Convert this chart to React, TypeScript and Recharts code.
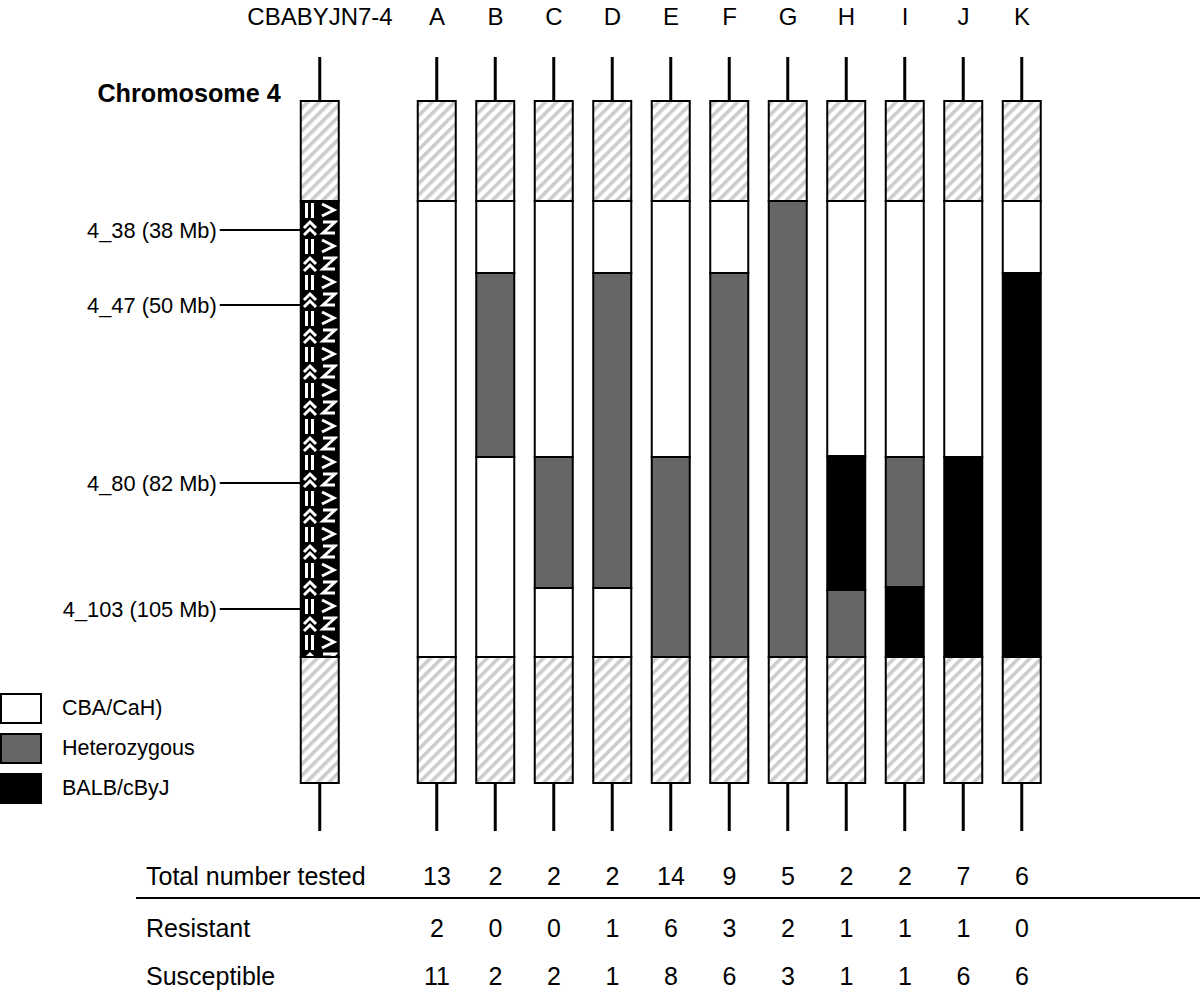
import React from "react";
import { BarChart, Bar, XAxis, YAxis, Cell, Legend } from "recharts";

const FONT = '"Liberation Sans", Arial, Helvetica, sans-serif';

// columns: the donor chromosome, a gap, then the recombinant lines
const lines = ["CBABYJN7-4", "gap", "A", "B", "C", "D", "E", "F", "G", "H", "I", "J", "K"];

// drawing units along each chromosome, top to bottom
const stubTop = 44;
const flankTop = 100;
const typedRegion = 456;
const flankBottom = 126;
const stubBottom = 48;

// genotype blocks (R = donor pattern, C = CBA/CaH, H = het, B = BALB/cByJ)
const blockGenotypes = [
  ["R"],
  [],
  ["C"],
  ["C", "H", "C"],
  ["C", "H", "C"],
  ["C", "H", "C"],
  ["C", "H"],
  ["C", "H"],
  ["H"],
  ["C", "B", "H"],
  ["C", "H", "B"],
  ["C", "B"],
  ["C", "B"],
];
// where each block ends inside the typed region
const blockEnds = [
  [456],
  [],
  [456],
  [72, 256, 456],
  [256, 387, 456],
  [72, 387, 456],
  [256, 456],
  [72, 456],
  [456],
  [255, 389, 456],
  [256, 386, 456],
  [256, 456],
  [72, 456],
];

const markerNames = ["4_38 (38 Mb)", "4_47 (50 Mb)", "4_80 (82 Mb)", "4_103 (105 Mb)"];
const markerPos = [29, 104, 282, 408];

const totalTested = [13, 2, 2, 2, 14, 9, 5, 2, 2, 7, 6];
const resistant = [2, 0, 0, 1, 6, 3, 2, 1, 1, 1, 0];
const susceptible = [11, 2, 2, 1, 8, 6, 3, 1, 1, 6, 6];

const legendLabels = ["CBA/CaH)", "Heterozygous", "BALB/cByJ"];
const legendCodes = ["C", "H", "B"];

const genotypeFill: Record<string, string> = {
  C: "#ffffff",
  H: "#666666",
  B: "#000000",
  R: "url(#refPattern)",
};

const chromLength = stubTop + flankTop + typedRegion + flankBottom + stubBottom;

const data = lines.map((name, i) => {
  const on = name !== "gap";
  const row: any = {
    name,
    stubTop: on ? stubTop : 0,
    flankTop: on ? flankTop : 0,
    flankBottom: on ? flankBottom : 0,
    stubBottom: on ? stubBottom : 0,
  };
  let prev = 0;
  for (let k = 0; k < 3; k++) {
    const end = blockEnds[i][k];
    row[`b${k}`] = end != null ? end - prev : 0;
    row[`g${k}`] = blockGenotypes[i][k] || "C";
    if (end != null) prev = end;
  }
  return row;
});

const StubLine = (props: any) => {
  const { x, y, width, height } = props;
  if (!height || !width) return <g />;
  const cx = x + width / 2;
  const y0 = Math.min(y, y + height);
  const y1 = Math.max(y, y + height);
  return <line x1={cx} x2={cx} y1={y0} y2={y1} stroke="#000" strokeWidth={3} />;
};

const TopTick = (props: any) => {
  const { x, y, payload } = props;
  if (payload.value === "gap") return <g />;
  return (
    <text x={x} y={y - 32} textAnchor="middle" fontSize={24} fontFamily={FONT} fill="#000">
      {payload.value}
    </text>
  );
};

const makeRowTick = (label: string, values: number[], dy: number, rule: boolean) => (props: any) => {
  const { x, y, payload } = props;
  const i = lines.indexOf(payload.value);
  if (i === 1) return <g />;
  if (i === 0) {
    return (
      <g>
        {rule && <line x1={136} x2={1200} y1={y - 1} y2={y - 1} stroke="#000" strokeWidth={2} />}
        <text x={146} y={y + dy} fontSize={25} fontFamily={FONT} fill="#000">
          {label}
        </text>
      </g>
    );
  }
  return (
    <text x={x} y={y + dy} textAnchor="middle" fontSize={25} fontFamily={FONT} fill="#000">
      {values[i - 2]}
    </text>
  );
};

const TotalTick = makeRowTick("Total number tested", totalTested, 54, false);
const ResistantTick = makeRowTick("Resistant", resistant, 38, true);
const SusceptibleTick = makeRowTick("Susceptible", susceptible, 38, false);

const markerTicks = markerPos.map((p) => stubTop + flankTop + p);

const MarkerTick = (props: any) => {
  const { x, y, payload } = props;
  const k = markerTicks.indexOf(payload.value);
  return (
    <g>
      <line x1={x - 71} x2={x + 10} y1={y} y2={y} stroke="#000" strokeWidth={2} />
      <text x={x - 74} y={y + 7.5} textAnchor="end" fontSize={21.8} fontFamily={FONT} fill="#000">
        {markerNames[k]}
      </text>
    </g>
  );
};

const chromLabel = (props: any) => {
  const vb = props.viewBox || { x: 0, y: 57, width: 290.75 };
  return (
    <text
      x={vb.x + vb.width - 10}
      y={vb.y + 45}
      textAnchor="end"
      fontSize={25.2}
      fontWeight="bold"
      fontFamily={FONT}
      fill="#000"
    >
      Chromosome 4
    </text>
  );
};

const LegendBlock = () => (
  <div style={{ fontFamily: FONT }}>
    {legendLabels.map((label, i) => (
      <div key={label} style={{ display: "flex", alignItems: "center", height: 40 }}>
        <div
          style={{
            width: 42,
            height: 31,
            boxSizing: "border-box",
            border: "2px solid #000",
            background: genotypeFill[legendCodes[i]],
          }}
        />
        <span style={{ marginLeft: 20, fontSize: 21.5, color: "#000" }}>{label}</span>
      </div>
    ))}
  </div>
);

const hiddenAxis = {
  dataKey: "name",
  interval: 0,
  axisLine: false,
  tickLine: false,
  tickSize: 0,
  tickMargin: 0,
} as const;

export default function App() {
  return (
    <div style={{ position: "absolute", left: 0, top: 0, background: "#fff" }}>
      <BarChart
        width={1200}
        height={992}
        data={data}
        barSize={38}
        margin={{ top: 0, right: 148.75, bottom: 0, left: 0 }}
      >
        <defs>
          <pattern id="hatch" patternUnits="userSpaceOnUse" width={8} height={8} patternTransform="rotate(45)">
            <rect width={8} height={8} fill="#ffffff" />
            <rect width={3.6} height={8} fill="#cccccc" />
          </pattern>
          <pattern id="refPattern" patternUnits="userSpaceOnUse" x={301} y={201} width={38} height={36}>
            <rect width={38} height={36} fill="#000" />
            <rect x={4} y={2} width={3} height={15} fill="#fff" />
            <rect x={10} y={2} width={3} height={15} fill="#fff" />
            <polyline points="3,27 9,21 15,27" stroke="#fff" strokeWidth={3} fill="none" />
            <polyline points="3,34 9,28 15,34" stroke="#fff" strokeWidth={3} fill="none" />
            <polyline points="21,3 33,9 21,15" stroke="#fff" strokeWidth={3} fill="none" />
            <polyline points="22,21 34,21 22,32 34,32" stroke="#fff" strokeWidth={3} fill="none" />
          </pattern>
        </defs>
        <XAxis xAxisId="a_top" orientation="top" height={57} tick={TopTick} {...hiddenAxis} />
        <XAxis xAxisId="b_total" height={68} tick={TotalTick} {...hiddenAxis} />
        <XAxis xAxisId="c_res" height={48} tick={ResistantTick} {...hiddenAxis} />
        <XAxis xAxisId="d_sus" height={45} tick={SusceptibleTick} {...hiddenAxis} />
        <YAxis
          type="number"
          domain={[0, chromLength]}
          reversed
          ticks={markerTicks}
          interval={0}
          width={290.75}
          axisLine={false}
          tickLine={false}
          tickSize={0}
          tickMargin={0}
          tick={MarkerTick}
          label={{ content: chromLabel }}
        />
        <Legend
          layout="horizontal"
          verticalAlign="middle"
          align="center"
          wrapperStyle={{ left: 0, top: 688, width: 220 }}
          content={() => <LegendBlock />}
        />
        <Bar xAxisId="a_top" dataKey="stubTop" stackId="c" shape={StubLine} isAnimationActive={false} />
        <Bar
          xAxisId="a_top"
          dataKey="flankTop"
          stackId="c"
          fill="url(#hatch)"
          stroke="#000"
          strokeWidth={2}
          isAnimationActive={false}
        />
        {[0, 1, 2].map((k) => (
          <Bar
            key={k}
            xAxisId="a_top"
            dataKey={`b${k}`}
            stackId="c"
            stroke="#000"
            strokeWidth={2}
            isAnimationActive={false}
          >
            {data.map((row, i) => (
              <Cell key={i} fill={genotypeFill[row[`g${k}`]]} />
            ))}
          </Bar>
        ))}
        <Bar
          xAxisId="a_top"
          dataKey="flankBottom"
          stackId="c"
          fill="url(#hatch)"
          stroke="#000"
          strokeWidth={2}
          isAnimationActive={false}
        />
        <Bar xAxisId="a_top" dataKey="stubBottom" stackId="c" shape={StubLine} isAnimationActive={false} />
      </BarChart>
    </div>
  );
}
